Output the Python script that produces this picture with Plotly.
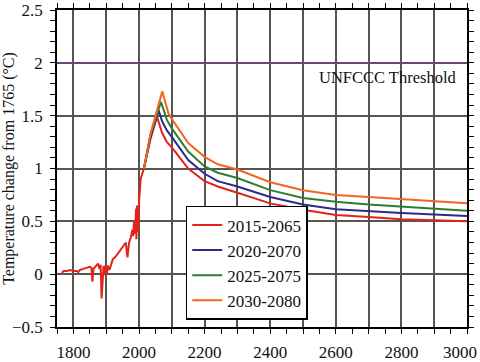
import plotly.graph_objects as go

# Historical (shared) record
hist_years = [1765, 1770, 1780, 1790, 1800, 1810, 1815, 1820, 1830, 1840, 1850, 1855, 1858, 1861,
              1870, 1875, 1880, 1883, 1886, 1889, 1892, 1895, 1898, 1902, 1905, 1910, 1915,
              1920, 1930, 1940, 1950, 1960, 1963, 1965, 1968, 1970, 1975, 1980, 1982, 1985,
              1988, 1991, 1992, 1994, 1997, 1998, 2000, 2002, 2005, 2010, 2015]
hist_vals = [0.01, 0.03, 0.03, 0.04, 0.03, 0.03, 0.02, 0.04, 0.05, 0.06, 0.07, 0.06, -0.07, 0.05,
             0.08, 0.10, 0.05, 0.09, -0.23, -0.05, 0.08, -0.01, 0.08, 0.0, 0.08, 0.04, 0.10,
             0.14, 0.17, 0.21, 0.26, 0.30, 0.20, 0.16, 0.25, 0.30, 0.35, 0.42, 0.36, 0.50,
             0.38, 0.62, 0.33, 0.65, 0.55, 0.40, 0.68, 0.80, 0.90, 0.95, 1.00]

# Scenario projections (after 2015)
red_years = [2035, 2055, 2070, 2085, 2100, 2150, 2200, 2240, 2300, 2400, 2500, 2600, 2700, 2800, 2900, 3000]
red_vals = [1.28, 1.49, 1.34, 1.25, 1.20, 1.00, 0.88, 0.83, 0.77, 0.67, 0.61, 0.56, 0.54, 0.52, 0.51, 0.50]

blue_years = [2035, 2060, 2070, 2085, 2100, 2150, 2200, 2240, 2300, 2400, 2500, 2600, 2700, 2800, 2900, 3000]
blue_vals = [1.30, 1.55, 1.45, 1.36, 1.30, 1.08, 0.95, 0.88, 0.83, 0.73, 0.66, 0.615, 0.595, 0.58, 0.565, 0.55]

green_years = [2035, 2067, 2075, 2085, 2100, 2150, 2200, 2240, 2300, 2400, 2500, 2600, 2700, 2800, 2900, 3000]
green_vals = [1.32, 1.63, 1.55, 1.46, 1.38, 1.16, 1.02, 0.96, 0.91, 0.795, 0.72, 0.685, 0.66, 0.64, 0.62, 0.60]

orange_years = [2035, 2071, 2080, 2090, 2100, 2150, 2200, 2240, 2300, 2400, 2500, 2600, 2700, 2800, 2900, 3000]
orange_vals = [1.33, 1.73, 1.62, 1.52, 1.47, 1.24, 1.11, 1.04, 0.99, 0.87, 0.795, 0.75, 0.73, 0.71, 0.69, 0.67]

labels = ["2015-2065", "2020-2070", "2025-2075", "2030-2080"]
colors = ["#e2231a", "#2b2b8c", "#2e7d32", "#f26522"]

threshold = 2.0
threshold_label = "UNFCCC Threshold"

x_major = list(range(1800, 3001, 100))
x_text = [str(v) if v % 200 == 0 else "" for v in x_major]
last_x_label = x_text[-1]
x_text[-1] = ""   # drawn separately so it stays inside the page, as in the reference
y_major = [-0.5, 0, 0.5, 1, 1.5, 2, 2.5]
y_text = ["\u22120.5", "0", "0.5", "1", "1.5", "2", "2.5"]

FONT = "Liberation Serif"

fig = go.Figure()

series = [
    (hist_years + red_years, hist_vals + red_vals),
    (hist_years[-1:] + blue_years, hist_vals[-1:] + blue_vals),
    (hist_years[-1:] + green_years, hist_vals[-1:] + green_vals),
    (hist_years[-1:] + orange_years, hist_vals[-1:] + orange_vals),
]
for i, ((xs, ys), name, c) in enumerate(zip(series, labels, colors)):
    fig.add_trace(go.Scatter(x=xs, y=ys, mode="lines", name=name,
                             line=dict(color=c, width=2.0)))

fig.add_hline(y=threshold, line=dict(color="#7b3f9a", width=1.3), layer="above")
fig.add_annotation(x=0.981, xref="paper", y=1.864, yref="y", text=threshold_label,
                   showarrow=False, xanchor="right", yanchor="middle",
                   font=dict(family=FONT, size=16.5, color="#111"))
fig.add_annotation(x=x_major[-1], xref="x", y=0, yref="paper", text=last_x_label,
                   showarrow=False, xanchor="right", yanchor="top", xshift=12, yshift=-14,
                   font=dict(family=FONT, size=17, color="#111"))

grid = "#5a544e"
fig.update_xaxes(range=[1750, 3000], tickvals=x_major, ticktext=x_text,
                 showgrid=True, gridcolor=grid, gridwidth=1.5,
                 ticks="outside", ticklen=5, tickwidth=1.2, tickcolor="black",
                 minor=dict(dtick=50, tick0=1750, ticks="outside", ticklen=5, tickwidth=1.2, tickcolor="black", showgrid=False),
                 showline=True, linecolor="black", linewidth=1.5, mirror="ticks",
                 zeroline=False, ticklabelstandoff=4, automargin=False,
                 ticklabeloverflow="allow",
                 tickfont=dict(family=FONT, size=17, color="#111"))
fig.update_yaxes(range=[-0.5, 2.5], tickvals=y_major, ticktext=y_text,
                 showgrid=True, gridcolor=grid, gridwidth=1.5,
                 ticks="outside", ticklen=5, tickwidth=1.2, tickcolor="black",
                 minor=dict(dtick=0.1, tick0=0, ticks="outside", ticklen=5, tickwidth=1.2, tickcolor="black", showgrid=False),
                 showline=True, linecolor="black", linewidth=1.5, mirror="ticks",
                 zeroline=False, ticklabelstandoff=4, automargin=False,
                 ticklabeloverflow="allow",
                 title=dict(text="Temperature change from 1765 (\u00b0C)", standoff=1,
                            font=dict(family=FONT, size=16, color="#111")),
                 tickfont=dict(family=FONT, size=17, color="#111"))

fig.update_layout(
    width=480, height=362,
    margin=dict(l=57, r=13, t=10, b=35),
    paper_bgcolor="white", plot_bgcolor="white",
    font=dict(family=FONT),
    showlegend=True,
    legend=dict(x=0.314, y=0.382, xanchor="left", yanchor="top",
                bgcolor="white", bordercolor="black", borderwidth=1.5,
                font=dict(family=FONT, size=17, color="#111"),
                itemwidth=30),
)

fig.write_html("out.html", config={"displayModeBar": False},
               post_script="document.body.style.margin='0';document.body.style.overflow='hidden';")
